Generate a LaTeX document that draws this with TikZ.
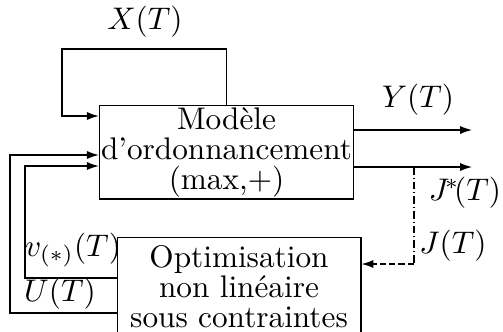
\documentclass[tikz,border=0pt]{standalone}
\usetikzlibrary{calc,arrows.meta}

\tikzset{
  bloc/.style={draw,align=center,inner sep=0.5pt,font=\fontsize{10}{9.6}\selectfont},
  jdash/.style={dash pattern=on 2pt off 1pt},
  jdashdot/.style={dash pattern=on 2.4pt off 1pt on 0.3pt off 1pt},
}

\begin{document}
\begin{tikzpicture}[x=0.32pt,y=-0.32pt,>={Latex[length=3.8pt,width=2.6pt]}]
\useasboundingbox (0,0) rectangle (503,331);

\node[bloc,minimum width=79pt,minimum height=30pt] (model) at (226.5,152) {Mod\`ele\\d'ordonnancement\\(max,+)};
\node[bloc,minimum width=78pt,minimum height=31.5pt] (optim) at (239,287) {Optimisation\\non lin\'eaire\\sous contraintes};

% boucle X(T)
\coordinate (xcorner) at (62,49);
\draw[->] (model.north) |- (xcorner) |- ($(model.west)+(0,-36)$);
\node (xlabel) at (145,22) {$X(T)$};

% commandes
\coordinate (ucorner) at (10,155);
\coordinate (vcorner) at (25,166);
\draw[->] ($(optim.west)+(0,26)$) -| (ucorner) -- (ucorner -| model.west);
\draw[->] ($(optim.west)+(0,-9)$) -| (vcorner) -- (vcorner -| model.west);
\node (vlabel) at (73,250) {$v_{(*)}(T)$};
\node (ulabel) at (60,294) {$U(T)$};

% sorties
\coordinate (yend) at (472,130);
\coordinate (jend) at (472,167);
\draw[->] (yend -| model.east) -- (yend);
\draw[->] (jend -| model.east) -- (jend);
\node (ylabel) at (418,100) {$Y(T)$};
\node (jslabel) at (465,193) {$J^{\!*}\!(T)$};

% retour J(T)
\coordinate (jsplit) at (414,167);
\coordinate (jcorner) at (414,264);
\draw[jdashdot] (jsplit) -- (jcorner);
\draw[->,jdash] (jcorner) -- (jcorner -| optim.east);
\node (jlabel) at (453,246) {$J(T)$};
\end{tikzpicture}
\end{document}
